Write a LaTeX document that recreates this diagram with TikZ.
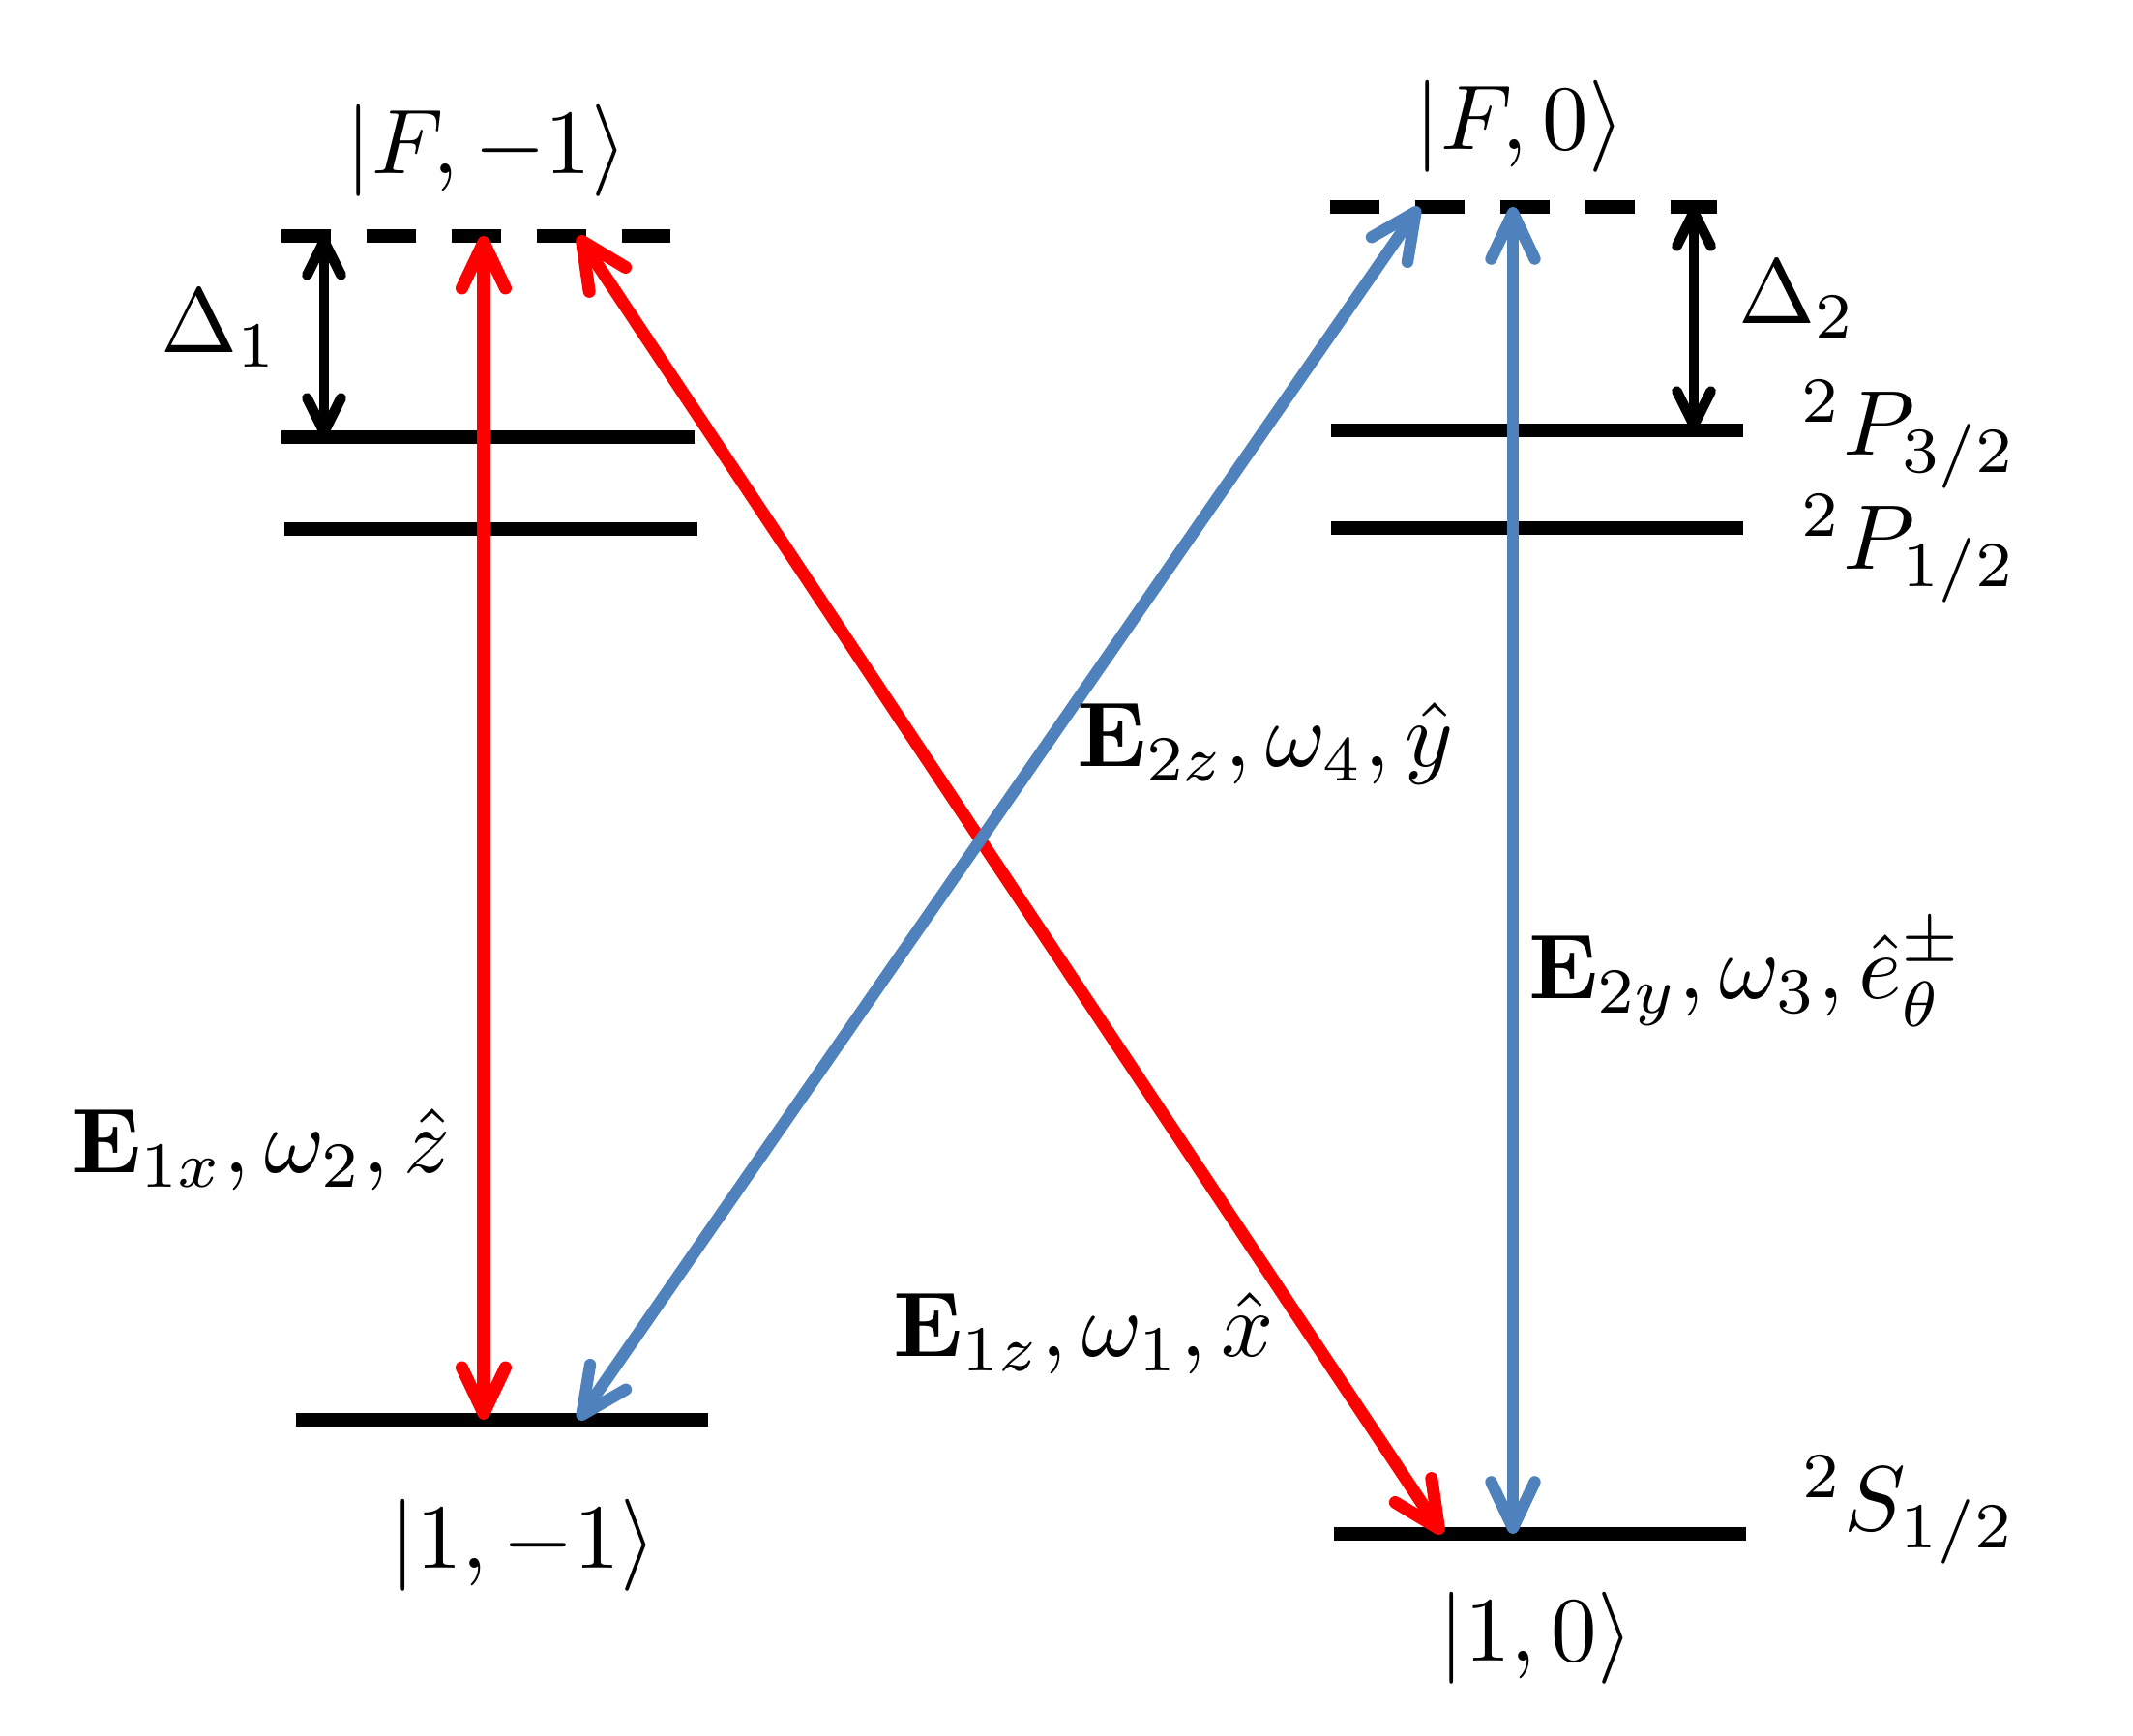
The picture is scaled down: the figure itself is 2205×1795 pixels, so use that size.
\documentclass[tikz,border=0pt]{standalone}
\usetikzlibrary{arrows.meta}
\definecolor{lasred}{RGB}{255,0,0}
\definecolor{lasblue}{RGB}{79,129,189}
\tikzset{
  levelline/.style={line width=3.8pt, line cap=butt},
  virtline/.style={line width=3.8pt, line cap=butt, dash pattern=on 0.505cm off 0.375cm},
  colarrow/.style={
    {Straight Barb[length=13.5pt,width=12.8pt,round]}-{Straight Barb[length=13.5pt,width=12.8pt,round]}},
  redarrow/.style={colarrow, line width=3.7pt, draw=lasred},
  bluearrow/.style={colarrow, line width=3.5pt, draw=lasblue},
  detarrow/.style={line width=3.0pt, draw=black,
    {Straight Barb[length=10pt,width=10pt,round]}-{Straight Barb[length=10pt,width=10pt,round]}},
  lbl/.style={inner sep=0pt, anchor=base, scale=2.7, font=\fontsize{10}{12}\selectfont},
}
\begin{document}
\begin{tikzpicture}[x=0.01cm,y=-0.01cm]
\useasboundingbox (0,0) rectangle (2205,1795);
% level end points
\coordinate (LdW) at (291,244);  \coordinate (LdE) at (693,244);
\coordinate (L3W) at (291,452);  \coordinate (L3E) at (718,452);
\coordinate (L1W) at (294,547);  \coordinate (L1E) at (721,547);
\coordinate (LgW) at (306,1468); \coordinate (LgE) at (732,1468);
\coordinate (RdW) at (1375,214); \coordinate (RdE) at (1775,214);
\coordinate (R3W) at (1376,445); \coordinate (R3E) at (1802,445);
\coordinate (R1W) at (1376,546); \coordinate (R1E) at (1802,546);
\coordinate (RgW) at (1379,1586); \coordinate (RgE) at (1805,1586);
% levels
\draw[virtline] (LdW) -- (LdE);
\draw[levelline] (L3W) -- (L3E);
\draw[levelline] (L1W) -- (L1E);
\draw[levelline] (LgW) -- (LgE);
\draw[virtline] (RdW) -- (RdE);
\draw[levelline] (R3W) -- (R3E);
\draw[levelline] (R1W) -- (R1E);
\draw[levelline] (RgW) -- (RgE);
% arrow end points
\coordinate (D1top) at (335,244);  \coordinate (D1bot) at (335,452);
\coordinate (D2top) at (1751,214); \coordinate (D2bot) at (1751,445);
\coordinate (RVtop) at (500,244);  \coordinate (RVbot) at (500,1468);
\coordinate (RDtop) at (598,244);  \coordinate (RDbot) at (1491,1586);
\coordinate (BDtop) at (1467,214); \coordinate (BDbot) at (598,1468);
\coordinate (BVtop) at (1564,214); \coordinate (BVbot) at (1564,1586);
% arrows
\draw[detarrow] (D1top) -- (D1bot);
\draw[detarrow] (D2top) -- (D2bot);
\draw[redarrow] (RVtop) -- (RVbot);
\draw[redarrow] (RDtop) -- (RDbot);
\draw[bluearrow] (BDtop) -- (BDbot);
\draw[bluearrow] (BVtop) -- (BVbot);
% labels
\node[lbl] (kFm) at (503,180) {$|F,-1\rangle$};
\node[lbl] (kF0) at (1571,155) {$|F,0\rangle$};
\node[lbl] (k1m) at (541,1622) {$|1,-1\rangle$};
\node[lbl] (k10) at (1588,1717) {$|1,0\rangle$};
\node[lbl] (d1) at (227,365) {$\Delta_1$};
\node[lbl] (d2) at (1858,335) {$\Delta_2$};
\node[lbl] (p32) at (1974,471) {${}^2P_{3/2}$};
\node[lbl] (p12) at (1974,589) {${}^2P_{1/2}$};
\node[lbl] (s12) at (1974,1583) {${}^2S_{1/2}$};
\node[lbl] (e1x) at (270,1213) {$\mathbf{E}_{1x},\omega_2,\hat{z}$};
\node[lbl] (e1z) at (1120,1403) {$\mathbf{E}_{1z},\omega_1,\hat{x}$};
\node[lbl] (e2z) at (1308,793) {$\mathbf{E}_{2z},\omega_4,\hat{y}$};
\node[lbl] (e2y) at (1805,1033) {$\mathbf{E}_{2y},\omega_3,\hat{e}_\theta^\pm$};
\end{tikzpicture}
\end{document}
